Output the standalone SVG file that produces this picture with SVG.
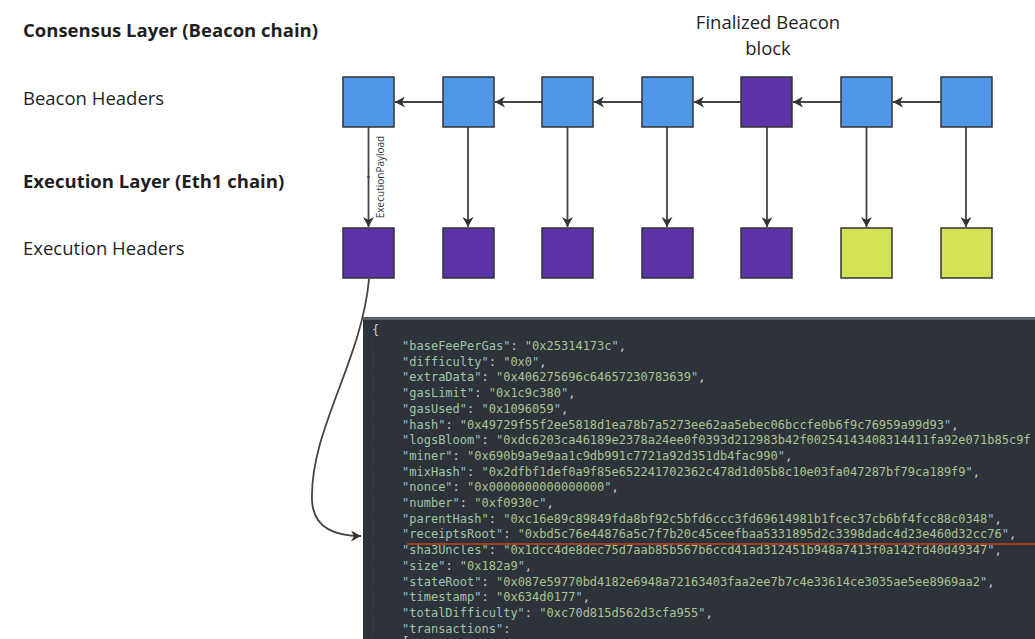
<svg xmlns="http://www.w3.org/2000/svg" width="1035" height="639" viewBox="0 0 1035 639">
<style>
.lbl{font-family:"Open Sans","Noto Sans","Liberation Sans",sans-serif;fill:#1f1f1f;font-size:18.5px}
.bold{font-weight:bold}
.box{stroke:#333;stroke-width:1.5}
.blue{fill:#4f97e8}
.purple{fill:#5c33a8}
.lime{fill:#d4e355}
.conn{stroke:#444;stroke-width:1.8;fill:none}
.code{font-family:"DejaVu Sans Mono","Liberation Mono",monospace;font-size:12px;white-space:pre}
.q{fill:#8fc6d4}
.k{fill:#9ec7a8}
.v{fill:#a9c590}
.p{fill:#c9ced3}
</style>
<defs>
<marker id="ah" markerWidth="11" markerHeight="11" refX="10" refY="5.5" orient="auto" markerUnits="userSpaceOnUse">
<path d="M0,0 L10,5.5 L0,11 L3,5.5 Z" fill="#333"/>
</marker>
<clipPath id="shaclip"><rect x="363" y="545" width="672" height="20"/></clipPath>
</defs>
<rect width="1035" height="639" fill="#ffffff"/>

<g id="labels">
<text class="lbl bold" x="23" y="37">Consensus Layer (Beacon chain)</text>
<text class="lbl" x="23" y="105">Beacon Headers</text>
<text class="lbl bold" x="23" y="188">Execution Layer (Eth1 chain)</text>
<text class="lbl" x="23" y="255">Execution Headers</text>
<text class="lbl" x="768" y="29" text-anchor="middle">Finalized Beacon</text>
<text class="lbl" x="768" y="55" text-anchor="middle">block</text>
</g>

<g id="connectors">
<line class="conn" x1="443" y1="102" x2="395" y2="102" marker-end="url(#ah)"/>
<line class="conn" x1="542" y1="102" x2="495" y2="102" marker-end="url(#ah)"/>
<line class="conn" x1="642" y1="102" x2="594" y2="102" marker-end="url(#ah)"/>
<line class="conn" x1="741" y1="102" x2="694" y2="102" marker-end="url(#ah)"/>
<line class="conn" x1="841" y1="102" x2="793" y2="102" marker-end="url(#ah)"/>
<line class="conn" x1="941" y1="102" x2="893" y2="102" marker-end="url(#ah)"/>
<line class="conn" x1="368.5" y1="127" x2="368.5" y2="227" marker-end="url(#ah)"/>
<line class="conn" x1="468" y1="127" x2="468" y2="227" marker-end="url(#ah)"/>
<line class="conn" x1="567.5" y1="127" x2="567.5" y2="227" marker-end="url(#ah)"/>
<line class="conn" x1="667" y1="127" x2="667" y2="227" marker-end="url(#ah)"/>
<line class="conn" x1="767" y1="127" x2="767" y2="227" marker-end="url(#ah)"/>
<line class="conn" x1="866.5" y1="127" x2="866.5" y2="227" marker-end="url(#ah)"/>
<line class="conn" x1="966" y1="127" x2="966" y2="227" marker-end="url(#ah)"/>
<circle cx="368.5" cy="177" r="1.3" fill="#444"/>
<text x="384" y="177" transform="rotate(-90 384 177)" text-anchor="middle" font-family="'Open Sans','Noto Sans','Liberation Sans',sans-serif" font-size="10" fill="#333">ExecutionPayload</text>
<path class="conn" d="M369,279 C362,360 310,430 312,500 C313,528 335,536 361,536" marker-end="url(#ah)"/>
</g>

<g id="beacon-headers">
<rect id="b1" class="box blue" x="343" y="77" width="51" height="50"/>
<rect id="b2" class="box blue" x="443" y="77" width="51" height="50"/>
<rect id="b3" class="box blue" x="542" y="77" width="51" height="50"/>
<rect id="b4" class="box blue" x="642" y="77" width="51" height="50"/>
<rect id="b5" class="box purple" x="741" y="77" width="51" height="50"/>
<rect id="b6" class="box blue" x="841" y="77" width="51" height="50"/>
<rect id="b7" class="box blue" x="941" y="77" width="51" height="50"/>
</g>

<g id="execution-headers">
<rect id="e1" class="box purple" x="343" y="228" width="51" height="50"/>
<rect id="e2" class="box purple" x="443" y="228" width="51" height="50"/>
<rect id="e3" class="box purple" x="542" y="228" width="51" height="50"/>
<rect id="e4" class="box purple" x="642" y="228" width="51" height="50"/>
<rect id="e5" class="box purple" x="741" y="228" width="51" height="50"/>
<rect id="e6" class="box lime" x="841" y="228" width="51" height="50"/>
<rect id="e7" class="box lime" x="941" y="228" width="51" height="50"/>
</g>

<g id="json-panel">
<rect x="363" y="317" width="672" height="322" fill="#2e323a"/>
<rect x="363" y="317" width="672" height="3" fill="#5c6168"/>
<line x1="373" y1="340" x2="373" y2="639" stroke="#4a4f57" stroke-width="1" stroke-dasharray="1,2"/>
<g class="code">
<text x="372" y="334" class="p">{</text>
<text x="402" y="350"><tspan class="q">"</tspan><tspan class="k">baseFeePerGas</tspan><tspan class="q">"</tspan><tspan class="p">: </tspan><tspan class="v">"0x25314173c</tspan><tspan class="q">"</tspan><tspan class="p">,</tspan></text>
<text x="402" y="365.7"><tspan class="q">"</tspan><tspan class="k">difficulty</tspan><tspan class="q">"</tspan><tspan class="p">: </tspan><tspan class="v">"0x0</tspan><tspan class="q">"</tspan><tspan class="p">,</tspan></text>
<text x="402" y="381.4"><tspan class="q">"</tspan><tspan class="k">extraData</tspan><tspan class="q">"</tspan><tspan class="p">: </tspan><tspan class="v">"0x406275696c64657230783639</tspan><tspan class="q">"</tspan><tspan class="p">,</tspan></text>
<text x="402" y="397.1"><tspan class="q">"</tspan><tspan class="k">gasLimit</tspan><tspan class="q">"</tspan><tspan class="p">: </tspan><tspan class="v">"0x1c9c380</tspan><tspan class="q">"</tspan><tspan class="p">,</tspan></text>
<text x="402" y="412.8"><tspan class="q">"</tspan><tspan class="k">gasUsed</tspan><tspan class="q">"</tspan><tspan class="p">: </tspan><tspan class="v">"0x1096059</tspan><tspan class="q">"</tspan><tspan class="p">,</tspan></text>
<text x="402" y="428.5"><tspan class="q">"</tspan><tspan class="k">hash</tspan><tspan class="q">"</tspan><tspan class="p">: </tspan><tspan class="v">"0x49729f55f2ee5818d1ea78b7a5273ee62aa5ebec06bccfe0b6f9c76959a99d93</tspan><tspan class="q">"</tspan><tspan class="p">,</tspan></text>
<text x="402" y="444.2"><tspan class="q">"</tspan><tspan class="k">logsBloom</tspan><tspan class="q">"</tspan><tspan class="p">: </tspan><tspan class="v">"0xdc6203ca46189e2378a24ee0f0393d212983b42f00254143408314411fa92e071b85c9f</tspan></text>
<text x="402" y="459.9"><tspan class="q">"</tspan><tspan class="k">miner</tspan><tspan class="q">"</tspan><tspan class="p">: </tspan><tspan class="v">"0x690b9a9e9aa1c9db991c7721a92d351db4fac990</tspan><tspan class="q">"</tspan><tspan class="p">,</tspan></text>
<text x="402" y="475.6"><tspan class="q">"</tspan><tspan class="k">mixHash</tspan><tspan class="q">"</tspan><tspan class="p">: </tspan><tspan class="v">"0x2dfbf1def0a9f85e652241702362c478d1d05b8c10e03fa047287bf79ca189f9</tspan><tspan class="q">"</tspan><tspan class="p">,</tspan></text>
<text x="402" y="491.3"><tspan class="q">"</tspan><tspan class="k">nonce</tspan><tspan class="q">"</tspan><tspan class="p">: </tspan><tspan class="v">"0x0000000000000000</tspan><tspan class="q">"</tspan><tspan class="p">,</tspan></text>
<text x="402" y="507"><tspan class="q">"</tspan><tspan class="k">number</tspan><tspan class="q">"</tspan><tspan class="p">: </tspan><tspan class="v">"0xf0930c</tspan><tspan class="q">"</tspan><tspan class="p">,</tspan></text>
<text x="402" y="522.7"><tspan class="q">"</tspan><tspan class="k">parentHash</tspan><tspan class="q">"</tspan><tspan class="p">: </tspan><tspan class="v">"0xc16e89c89849fda8bf92c5bfd6ccc3fd69614981b1fcec37cb6bf4fcc88c0348</tspan><tspan class="q">"</tspan><tspan class="p">,</tspan></text>
<text x="402" y="538.4"><tspan class="q">"</tspan><tspan class="k">receiptsRoot</tspan><tspan class="q">"</tspan><tspan class="p">: </tspan><tspan class="v">"0xbd5c76e44876a5c7f7b20c45ceefbaa5331895d2c3398dadc4d23e460d32cc76</tspan><tspan class="q">"</tspan><tspan class="p">,</tspan></text>
<text x="402" y="554.1" clip-path="url(#shaclip)"><tspan class="q">"</tspan><tspan class="k">sha3Uncles</tspan><tspan class="q">"</tspan><tspan class="p">: </tspan><tspan class="v">"0x1dcc4de8dec75d7aab85b567b6ccd41ad312451b948a7413f0a142fd40d49347</tspan><tspan class="q">"</tspan><tspan class="p">,</tspan></text>
<text x="402" y="569.8"><tspan class="q">"</tspan><tspan class="k">size</tspan><tspan class="q">"</tspan><tspan class="p">: </tspan><tspan class="v">"0x182a9</tspan><tspan class="q">"</tspan><tspan class="p">,</tspan></text>
<text x="402" y="585.5"><tspan class="q">"</tspan><tspan class="k">stateRoot</tspan><tspan class="q">"</tspan><tspan class="p">: </tspan><tspan class="v">"0x087e59770bd4182e6948a72163403faa2ee7b7c4e33614ce3035ae5ee8969aa2</tspan><tspan class="q">"</tspan><tspan class="p">,</tspan></text>
<text x="402" y="601.2"><tspan class="q">"</tspan><tspan class="k">timestamp</tspan><tspan class="q">"</tspan><tspan class="p">: </tspan><tspan class="v">"0x634d0177</tspan><tspan class="q">"</tspan><tspan class="p">,</tspan></text>
<text x="402" y="616.9"><tspan class="q">"</tspan><tspan class="k">totalDifficulty</tspan><tspan class="q">"</tspan><tspan class="p">: </tspan><tspan class="v">"0xc70d815d562d3cfa955</tspan><tspan class="q">"</tspan><tspan class="p">,</tspan></text>
<text x="402" y="632.6"><tspan class="q">"</tspan><tspan class="k">transactions</tspan><tspan class="q">"</tspan><tspan class="p">:</tspan></text>
<text x="402" y="646" class="p">[</text>
</g>
<line x1="407" y1="544" x2="1035" y2="544" stroke="#c0461e" stroke-width="1.6"/>
</g>
</svg>
